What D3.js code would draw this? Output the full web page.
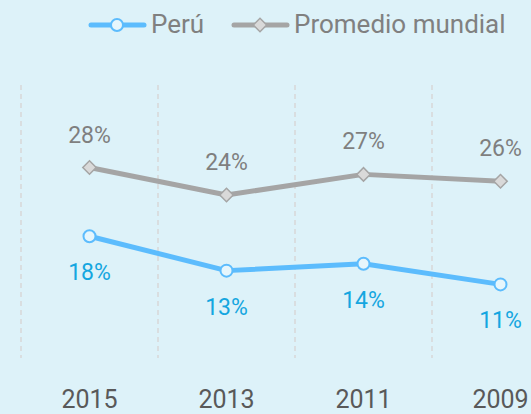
<!DOCTYPE html>
<html>
<head>
<meta charset="utf-8">
<script src="https://cdn.jsdelivr.net/npm/d3@7"></script>
<style>
  body { margin: 0; background: #ddf2f9; }
  svg { display: block; font-family: Roboto, "Noto Sans", sans-serif; }
</style>
</head>
<body>
<div id="chart"></div>
<script>
// Chart data
var years = ["2015", "2013", "2011", "2009"];
var peru = [18, 13, 14, 11];
var mundial = [28, 24, 27, 26];
var seriesNames = ["Perú", "Promedio mundial"];

var width = 531;
var height = 414;

var svg = d3.select("#chart")
    .append("svg")
    .attr("width", width)
    .attr("height", height);

svg.append("rect")
    .attr("width", width)
    .attr("height", height)
    .attr("fill", "#ddf2f9");

// Scales
var xScale = d3.scaleBand()
    .domain(years)
    .range([21, 569]);

var yScale = d3.scaleLinear()
    .domain([0, 40])
    .range([360, 85]);

var cx = function(d) { return xScale(d) + xScale.bandwidth() / 2; };

// Dashed vertical gridlines at band edges
svg.append("g")
    .selectAll("line")
    .data(years)
    .enter()
    .append("line")
    .attr("x1", function(d) { return xScale(d); })
    .attr("x2", function(d) { return xScale(d); })
    .attr("y1", yScale(40))
    .attr("y2", yScale(0) - 2)
    .attr("stroke", "#d8d8d8")
    .attr("stroke-width", 1.5)
    .attr("stroke-dasharray", "5,4");

// x axis labels
svg.append("g")
    .selectAll("text")
    .data(years)
    .enter()
    .append("text")
    .attr("x", cx)
    .attr("y", 408)
    .attr("text-anchor", "middle")
    .attr("font-size", 25)
    .attr("fill", "#595959")
    .text(function(d) { return d; });

var line = d3.line()
    .x(function(d, i) { return cx(years[i]); })
    .y(function(d) { return yScale(d); });

// Promedio mundial
svg.append("path")
    .datum(mundial)
    .attr("d", line)
    .attr("fill", "none")
    .attr("stroke", "#a5a5a5")
    .attr("stroke-width", 5)
    .attr("stroke-linejoin", "round");

var diamond = d3.symbol().type(d3.symbolSquare).size(90);

svg.append("g")
    .selectAll("path")
    .data(mundial)
    .enter()
    .append("path")
    .attr("d", diamond)
    .attr("transform", function(d, i) {
        return `translate(${cx(years[i])},${yScale(d)}) rotate(45)`;
    })
    .attr("fill", "#d9d9d9")
    .attr("stroke", "#a5a5a5")
    .attr("stroke-width", 1.5);

svg.append("g")
    .selectAll("text")
    .data(mundial)
    .enter()
    .append("text")
    .attr("x", function(d, i) { return cx(years[i]); })
    .attr("y", function(d) { return yScale(d) - 25; })
    .attr("text-anchor", "middle")
    .attr("font-size", 23)
    .attr("fill", "#7f7f7f")
    .text(function(d) { return d + "%"; });

// Perú
svg.append("path")
    .datum(peru)
    .attr("d", line)
    .attr("fill", "none")
    .attr("stroke", "#5cbcfd")
    .attr("stroke-width", 5)
    .attr("stroke-linejoin", "round");

svg.append("g")
    .selectAll("circle")
    .data(peru)
    .enter()
    .append("circle")
    .attr("cx", function(d, i) { return cx(years[i]); })
    .attr("cy", function(d) { return yScale(d); })
    .attr("r", 6)
    .attr("fill", "#e6f6fc")
    .attr("stroke", "#5cbcfd")
    .attr("stroke-width", 2);

svg.append("g")
    .selectAll("text")
    .data(peru)
    .enter()
    .append("text")
    .attr("x", function(d, i) { return cx(years[i]); })
    .attr("y", function(d) { return yScale(d) + 44; })
    .attr("text-anchor", "middle")
    .attr("font-size", 23)
    .attr("fill", "#14a6e0")
    .text(function(d) { return d + "%"; });

// Legend
var legend = svg.append("g");

legend.append("line")
    .attr("x1", 91).attr("x2", 144)
    .attr("y1", 25).attr("y2", 25)
    .attr("stroke", "#5cbcfd")
    .attr("stroke-width", 5)
    .attr("stroke-linecap", "round");
legend.append("circle")
    .attr("cx", 117).attr("cy", 25).attr("r", 6)
    .attr("fill", "#e6f6fc")
    .attr("stroke", "#5cbcfd")
    .attr("stroke-width", 2);
legend.append("text")
    .attr("x", 151).attr("y", 33)
    .attr("font-size", 26)
    .attr("fill", "#808080")
    .text(seriesNames[0]);

legend.append("line")
    .attr("x1", 234).attr("x2", 287)
    .attr("y1", 25).attr("y2", 25)
    .attr("stroke", "#a5a5a5")
    .attr("stroke-width", 5)
    .attr("stroke-linecap", "round");
legend.append("path")
    .attr("d", diamond)
    .attr("transform", "translate(260,25) rotate(45)")
    .attr("fill", "#d9d9d9")
    .attr("stroke", "#a5a5a5")
    .attr("stroke-width", 1.5);
legend.append("text")
    .attr("x", 294).attr("y", 33)
    .attr("font-size", 26)
    .attr("fill", "#808080")
    .text(seriesNames[1]);
</script>
</body>
</html>
